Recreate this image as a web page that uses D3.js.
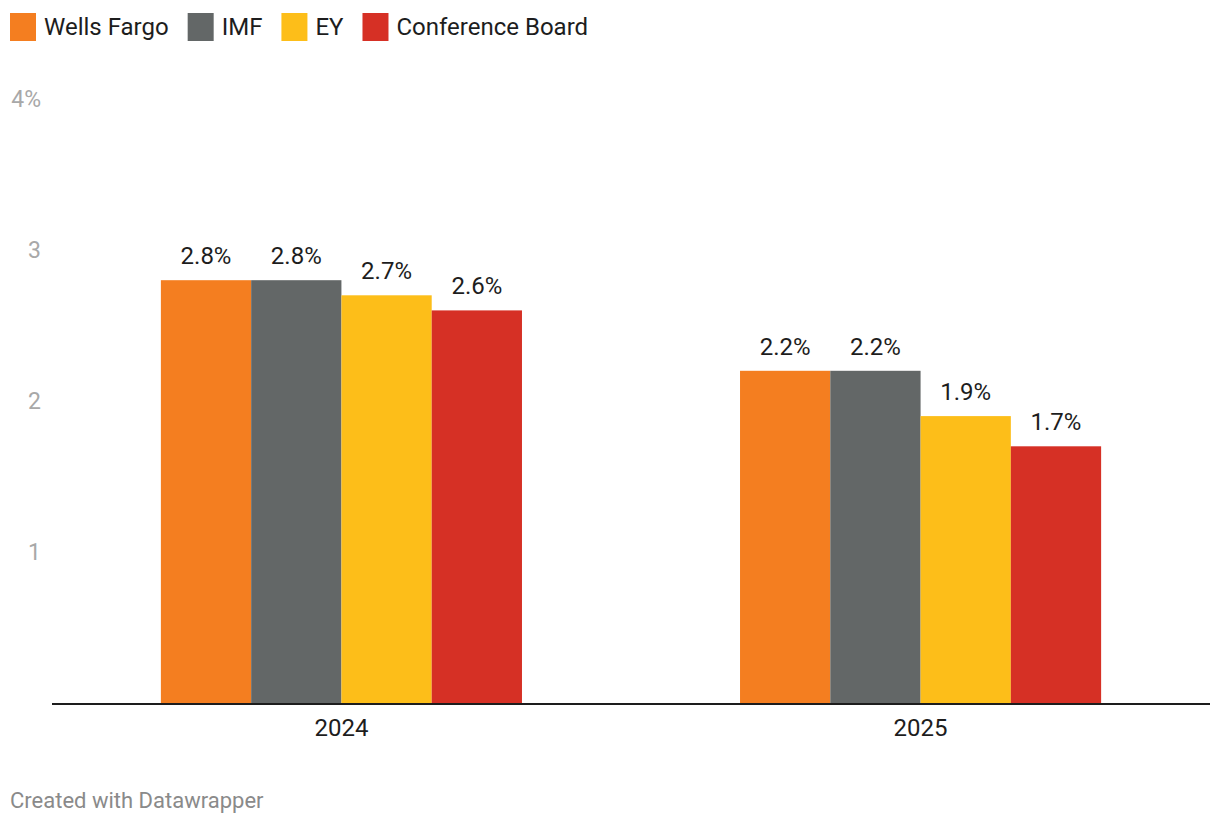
<!DOCTYPE html>
<html><head><meta charset="utf-8">
<script src="https://cdn.jsdelivr.net/npm/d3@7"></script>
<style>body{margin:0;background:#fff;} text{font-family:Roboto, sans-serif;}</style>
</head><body>
<svg id="c" width="1220" height="826"></svg>
<script>
const categories = ["2024", "2025"];
const seriesNames = ["Wells Fargo", "IMF", "EY", "Conference Board"];
const wellsFargo = [2.8, 2.2];
const imf = [2.8, 2.2];
const ey = [2.7, 1.9];
const conferenceBoard = [2.6, 1.7];
const yTicks = [1, 2, 3, 4];
const colors = ["#f47e20", "#636767", "#fdbe19", "#d63025"];

const seriesValues = [wellsFargo, imf, ey, conferenceBoard];
const svg = d3.select("#c");
const x0 = d3.scaleBand().domain(categories).range([52, 1210]).paddingInner(0.3765).paddingOuter(0.188);
const x1 = d3.scaleBand().domain(seriesNames).range([0, x0.bandwidth()]).padding(0);
const y = d3.scaleLinear().domain([0, 4]).range([703, 99]);

// legend
let lx = 10;
const leg = svg.append("g");
seriesNames.forEach((s, i) => {
  leg.append("rect").attr("x", lx).attr("y", 13).attr("width", 26).attr("height", 28).attr("fill", colors[i]);
  const t = leg.append("text").attr("x", lx + 34).attr("y", 35).attr("font-size", 24).attr("fill", "#1d1d1d").text(s);
  lx += 34 + t.node().getComputedTextLength() + 19;
});

// y tick labels
svg.append("g").selectAll("text").data(yTicks).join("text")
  .attr("x", 41).attr("y", d => y(d) + 8).attr("text-anchor", "end")
  .attr("font-size", 23).attr("fill", "#a8a8a8")
  .text(d => d === 4 ? d + "%" : d);

// bars
const g = svg.append("g");
categories.forEach((c, ci) => {
  seriesNames.forEach((s, si) => {
    const v = seriesValues[si][ci];
    const bx = x0(c) + x1(s);
    g.append("rect").attr("x", bx).attr("y", y(v)).attr("width", x1.bandwidth()).attr("height", y(0) - y(v)).attr("fill", colors[si]);
    g.append("text").attr("x", bx + x1.bandwidth() / 2).attr("y", y(v) - 16)
      .attr("text-anchor", "middle").attr("font-size", 24).attr("fill", "#1d1d1d")
      .text(v.toFixed(1) + "%");
  });
});

// x axis
svg.append("line").attr("x1", 52).attr("x2", 1210).attr("y1", 704).attr("y2", 704).attr("stroke", "#1d1d1d").attr("stroke-width", 2);
svg.append("g").selectAll("text").data(categories).join("text")
  .attr("x", d => x0(d) + x0.bandwidth() / 2).attr("y", 736).attr("text-anchor", "middle")
  .attr("font-size", 24).attr("fill", "#1d1d1d").text(d => d);

svg.append("text").attr("x", 10).attr("y", 808).attr("font-size", 22).attr("fill", "#8a8a8a").text("Created with Datawrapper");
</script>
</body></html>
